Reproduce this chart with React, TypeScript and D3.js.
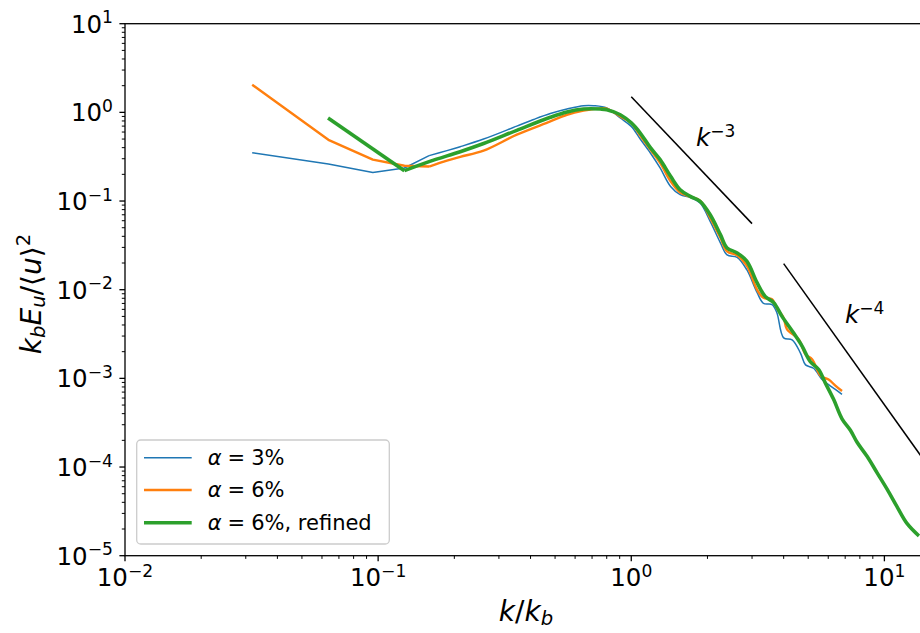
import React from 'react';
import * as d3 from 'd3';

// spectra: [k/k_b, k_b E_u / <u>^2]
const blueHead: [number, number][] = [
  [0.0318, 0.35], [0.0636, 0.262], [0.0953, 0.21], [0.127, 0.236], [0.159, 0.325],
];
const blueTail: [number, number][] = [
  [0.159, 0.325], [0.187, 0.37], [0.211, 0.41], [0.261, 0.5], [0.353, 0.7], [0.411, 0.83],
  [0.479, 0.97], [0.557, 1.09], [0.648, 1.19], [0.71, 1.19], [0.8, 1.12], [0.905, 0.865],
  [1.0, 0.695], [1.085, 0.5], [1.19, 0.348], [1.3, 0.236], [1.43, 0.146], [1.56, 0.118],
  [1.71, 0.11], [1.87, 0.095], [2.05, 0.059], [2.25, 0.0338], [2.39, 0.0247], [2.62, 0.0232],
  [2.86, 0.0168], [3.14, 0.0093], [3.33, 0.007], [3.6, 0.0068], [3.76, 0.0055], [4.0, 0.00286],
  [4.32, 0.00272], [4.66, 0.00193], [4.88, 0.00142], [5.25, 0.0013], [5.67, 0.00097],
  [6.02, 0.00085], [6.4, 0.00075], [6.8, 0.00066],
];
const orangeHead: [number, number][] = [
  [0.0318, 2.05], [0.0636, 0.49], [0.0953, 0.293], [0.127, 0.25], [0.159, 0.245],
];
const orangeTail: [number, number][] = [
  [0.159, 0.245], [0.187, 0.285], [0.211, 0.315], [0.261, 0.37], [0.353, 0.56], [0.479, 0.79],
  [0.557, 0.94], [0.648, 1.045], [0.755, 1.11], [0.8, 1.1], [0.905, 0.9], [1.0, 0.76],
  [1.085, 0.546], [1.19, 0.38], [1.3, 0.269], [1.43, 0.167], [1.56, 0.125], [1.71, 0.112],
  [1.87, 0.101], [2.05, 0.0645], [2.25, 0.0385], [2.39, 0.027], [2.62, 0.0244], [2.86, 0.0187],
  [3.14, 0.01], [3.33, 0.0081], [3.6, 0.0078], [3.76, 0.0062], [4.0, 0.0048], [4.12, 0.0036],
  [4.59, 0.00274], [4.88, 0.00186], [5.18, 0.00164], [5.61, 0.00106], [6.02, 0.00097],
  [6.4, 0.00083], [6.8, 0.00072],
];
const greenHead: [number, number][] = [
  [0.0634, 0.865], [0.127, 0.22],
];
const greenTail: [number, number][] = [
  [0.127, 0.22], [0.16, 0.28], [0.211, 0.36], [0.261, 0.445], [0.353, 0.627], [0.479, 0.88],
  [0.557, 1.01], [0.648, 1.09], [0.755, 1.09], [0.8, 1.07], [0.905, 0.94], [1.0, 0.76],
  [1.085, 0.585], [1.19, 0.4], [1.3, 0.293], [1.43, 0.19], [1.56, 0.134], [1.71, 0.113],
  [1.87, 0.099], [2.05, 0.07], [2.25, 0.0418], [2.39, 0.0296], [2.62, 0.026], [2.86, 0.021],
  [3.14, 0.012], [3.38, 0.0084], [3.66, 0.0071], [3.94, 0.005], [4.38, 0.00324], [4.73, 0.00231],
  [5.1, 0.00154], [5.5, 0.00126], [5.84, 0.00089], [6.3, 0.00058], [6.8, 0.00035], [7.34, 0.00026],
  [7.8, 0.00019], [8.54, 0.000132], [9.36, 8.6e-5], [10.26, 5.6e-5], [11.2, 3.6e-5],
  [12.3, 2.3e-5], [13.7, 1.67e-5],
];

// power-law guide segments (endpoints)
const slope3: [number, number][] = [[1, 1.5], [3, 0.0556]];
const slope4: [number, number][] = [[4, 0.0197], [20, 3.15e-5]];

const xMajor = [-2, -1, 0, 1];
const yMajor = [-5, -4, -3, -2, -1, 0, 1];

const series = [
  { label: '3%', extra: '', color: '#1f77b4', width: 1.5, head: blueHead, tail: blueTail },
  { label: '6%', extra: '', color: '#ff7f0e', width: 2.4, head: orangeHead, tail: orangeTail },
  { label: '6%', extra: ', refined', color: '#2ca02c', width: 3.6, head: greenHead, tail: greenTail },
];

const W = 920;
const H = 633;
const left = 125;
const right = 926;
const top = 23.7;
const bottom = 555.7;
const font = 'DejaVu Sans';

const x = d3.scaleLog().domain([0.01, 14.6]).range([left, right]);
const y = d3.scaleLog().domain([1e-5, 10]).range([bottom, top]);

const Pow10 = ({ e, fs, ...rest }: any) => (
  <text fontFamily={font} fontSize={fs} fill="#000" {...rest}>
    <tspan>10</tspan>
    <tspan dy={-0.37 * fs} fontSize={0.7 * fs}>{e < 0 ? `\u2212${-e}` : `${e}`}</tspan>
  </text>
);

export default function App() {
  const lin = d3.line<[number, number]>().x(d => x(d[0])).y(d => y(d[1]));
  const smooth = d3.line<[number, number]>().x(d => x(d[0])).y(d => y(d[1]))
    .curve(d3.curveCatmullRom.alpha(0.5));

  const xMinor: number[] = [];
  for (let e = -2; e <= 1; e++) for (let m = 2; m <= 9; m++) {
    const v = m * Math.pow(10, e);
    if (x(v) <= W) xMinor.push(v);
  }
  const yMinor: number[] = [];
  for (let e = -5; e < 1; e++) for (let m = 2; m <= 9; m++) yMinor.push(m * Math.pow(10, e));

  const legY = [457.7, 490, 522.7];
  const tickFs = 24.5;

  return (
    <svg width={W} height={H} style={{ position: 'absolute', left: 0, top: 0 }}>
      <rect width={W} height={H} fill="white" />
      <defs>
        <clipPath id="plot">
          <rect x={left} y={top} width={right - left} height={bottom - top} />
        </clipPath>
      </defs>

      <g clipPath="url(#plot)" fill="none" strokeLinejoin="round" strokeLinecap="butt">
        {series.map((s, i) => (
          <g key={i} stroke={s.color} strokeWidth={s.width}>
            <path d={lin(s.head) || ''} />
            <path d={smooth(s.tail) || ''} />
          </g>
        ))}
        <path d={lin(slope3) || ''} stroke="#000" strokeWidth={1.5} />
        <path d={lin(slope4) || ''} stroke="#000" strokeWidth={1.5} />
      </g>

      {/* spines */}
      <rect x={left} y={top} width={right - left} height={bottom - top}
        stroke="#000" strokeWidth={1.3} fill="none" />

      {/* ticks */}
      <g stroke="#000" strokeWidth={1.3}>
        {xMajor.map(e => (
          <line key={e} x1={x(Math.pow(10, e))} x2={x(Math.pow(10, e))} y1={bottom} y2={bottom + 5.6} />
        ))}
        {xMinor.map(v => (
          <line key={v} x1={x(v)} x2={x(v)} y1={bottom} y2={bottom + 3.2} strokeWidth={1} />
        ))}
        {yMajor.map(e => (
          <line key={e} y1={y(Math.pow(10, e))} y2={y(Math.pow(10, e))} x1={left} x2={left - 5.6} />
        ))}
        {yMinor.map(v => (
          <line key={v} y1={y(v)} y2={y(v)} x1={left} x2={left - 3.2} strokeWidth={1} />
        ))}
      </g>
      {xMajor.map(e => (
        <Pow10 key={e} e={e} fs={tickFs} x={x(Math.pow(10, e))} y={586} textAnchor="middle" />
      ))}
      {yMajor.map(e => (
        <Pow10 key={e} e={e} fs={tickFs} x={113} y={y(Math.pow(10, e)) + 8.8} textAnchor="end" />
      ))}

      {/* annotations */}
      <text x={696} y={146} fontFamily={font} fontSize={24.5}>
        <tspan fontStyle="italic">k</tspan>
        <tspan dy={-9} fontSize={17}>{'\u22123'}</tspan>
      </text>
      <text x={845} y={322.7} fontFamily={font} fontSize={24.5}>
        <tspan fontStyle="italic">k</tspan>
        <tspan dy={-9} fontSize={17}>{'\u22124'}</tspan>
      </text>

      {/* axis labels */}
      <text x={526} y={620.7} fontFamily={font} fontSize={28} textAnchor="middle">
        <tspan fontStyle="italic">k</tspan>
        <tspan>/</tspan>
        <tspan fontStyle="italic">k</tspan>
        <tspan fontStyle="italic" fontSize={19.6} dy={4}>b</tspan>
      </text>
      <text transform="translate(41,294) rotate(-90)" fontFamily={font} fontSize={28} textAnchor="middle">
        <tspan fontStyle="italic">k</tspan>
        <tspan fontStyle="italic" fontSize={19.6} dy={4}>b</tspan>
        <tspan fontStyle="italic" dy={-4}>E</tspan>
        <tspan fontStyle="italic" fontSize={19.6} dy={4}>u</tspan>
        <tspan dy={-4}>/⟨</tspan>
        <tspan fontStyle="italic">u</tspan>
        <tspan>⟩</tspan>
        <tspan fontSize={19.6} dy={-11}>2</tspan>
      </text>

      {/* legend */}
      <rect x={136.7} y={440} width={252.6} height={104} rx={4} fill="white" fillOpacity={0.8}
        stroke="#cccccc" strokeWidth={1.3} />
      {series.map((s, i) => (
        <g key={i}>
          <line x1={144} x2={191.7} y1={legY[i]} y2={legY[i]} stroke={s.color} strokeWidth={s.width} />
          <text x={207.7} y={legY[i] + 7.3} fontFamily={font} fontSize={21}>
            <tspan fontStyle="italic">α</tspan>
            <tspan dx={6}>=</tspan>
            <tspan dx={6}>{`${s.label}${s.extra}`}</tspan>
          </text>
        </g>
      ))}
    </svg>
  );
}
